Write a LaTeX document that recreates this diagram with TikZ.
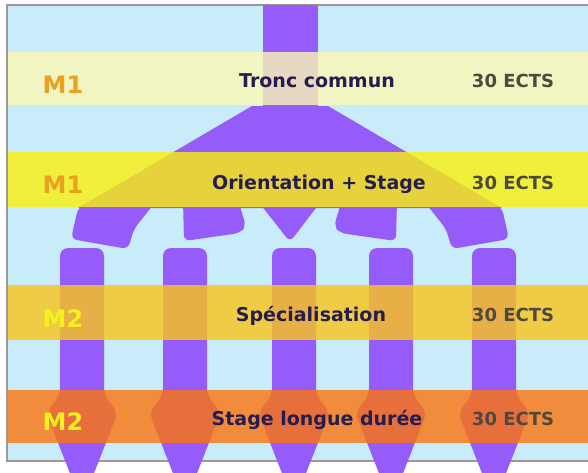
\documentclass[tikz,border=0pt]{standalone}
\usepackage{fontspec}
\setmainfont{DejaVu Sans}

\definecolor{fondbleu}{RGB}{200,236,250}
\definecolor{cadre}{RGB}{160,150,150}
\definecolor{parcours}{RGB}{150,92,250}
\definecolor{bandeA}{RGB}{250,248,181}
\definecolor{bandeB}{RGB}{250,241,13}
\definecolor{bandeC}{RGB}{250,197,25}
\definecolor{bandeD}{RGB}{250,116,12}
\definecolor{titre}{RGB}{38,28,78}
\definecolor{ects}{RGB}{78,72,62}
\definecolor{mun}{RGB}{235,160,30}
\definecolor{mdeux}{RGB}{245,240,30}

\begin{document}
\begin{tikzpicture}[x=1pt, y=-1pt,
    intitule/.style={anchor=base, text=titre, font=\bfseries\fontsize{19}{21}\selectfont},
    credits/.style={anchor=base, text=ects, font=\bfseries\fontsize{18}{20}\selectfont},
    module/.style={anchor=base, font=\bfseries\fontsize{24}{26}\selectfont}]
	\clip (0,0) rectangle (588,472);
	% 1. fond et cadre
	\fill[white] (0,0) rectangle (588,472);
	\fill[fondbleu] (7,5) rectangle (592,461);
	\draw[cadre, line width=1.5pt] (592,5) -- (7,5) -- (7,461) -- (592,461);
	
	% 2. tronc et éventail
	\fill[parcours] (263,5) rectangle (318,108);
	\fill[parcours] (252,106) -- (328,106) -- (502,208) -- (78,208) -- cycle;
	\fill[parcours, rounded corners=6] (92,200) -- (157,200) -- (134,229) -- (128,249) -- (71,239) -- (78,208) -- cycle;
	\fill[parcours, rounded corners=6] (183,200) -- (238,200) -- (246,226) -- (240,233) -- (184,241) -- cycle;
	\fill[parcours, rounded corners=6] (257,200) -- (322,200) -- (290,242) -- cycle;
	\fill[parcours, rounded corners=6] (397,200) -- (342,200) -- (334,226) -- (340,233) -- (396,241) -- cycle;
	\fill[parcours, rounded corners=6] (488,200) -- (423,200) -- (446,229) -- (452,249) -- (509,239) -- (502,208) -- cycle;
	
	% 3. colonnes terminées en flèche
	\foreach \c in {82,185,294,391,494}
		\fill[parcours, rounded corners=8] (\c-22,248) -- (\c-22,396) -- (\c-36,412) -- (\c,504)
			-- (\c+36,412) -- (\c+22,396) -- (\c+22,248) -- cycle;
	
	% 4. bandes semestrielles (transparentes)
	\fill[bandeA, opacity=.8] (8,52) rectangle (592,105);
	\fill[bandeB, opacity=.8] (8,152) rectangle (592,207);
	\fill[bandeC, opacity=.8] (8,285) rectangle (592,340);
	\fill[bandeD, opacity=.8] (8,390) rectangle (592,443);
	
	% 5. textes
	\node[module, text=mun] (mA) at (63,93) {M1};
	\node[module, text=mun] (mB) at (63,193) {M1};
	\node[module, text=mdeux] (mC) at (63,327) {M2};
	\node[module, text=mdeux] (mD) at (63,430) {M2};
	
	\node[intitule] (tronc) at (317,87) {Tronc commun};
	\node[intitule] (orient) at (319,189) {Orientation + Stage};
	\node[intitule] (specia) at (311,321) {Spécialisation};
	\node[intitule] (longue) at (317,425) {Stage longue durée};
	
	\node[credits] (ectsA) at (513,87) {30 ECTS};
	\node[credits] (ectsB) at (513,189) {30 ECTS};
	\node[credits] (ectsC) at (513,321) {30 ECTS};
	\node[credits] (ectsD) at (513,425) {30 ECTS};
\end{tikzpicture}
\end{document}
